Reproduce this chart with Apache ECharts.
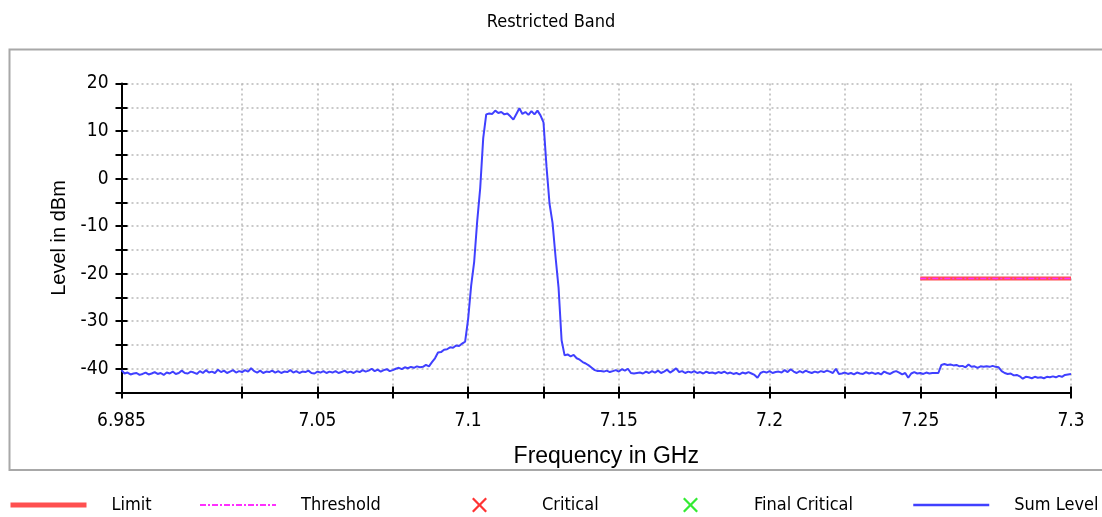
<!DOCTYPE html>
<html>
<head>
<meta charset="utf-8">
<script src="https://cdn.jsdelivr.net/npm/echarts@6/dist/echarts.min.js"></script>
<style>
  html, body { margin: 0; padding: 0; background: #ffffff; }
  #chart { width: 1102px; height: 517px; }
</style>
</head>
<body>
<div id="chart"></div>
<script>
// Sweep: 6.985 GHz to 7.300 GHz, one sample per MHz
const freqStart = 6.985;
const freqStep = 0.001;

// Sum Level trace in dBm, one value per sample
const sumLevel = [
  -40.3,
  -41.0, -40.8, -41.2, -41.0, -40.9, -41.3, -41.1, -40.8, -41.2, -41.0,
  -40.7, -41.1, -40.9, -41.3, -40.8, -41.0, -40.6, -41.1, -40.9, -40.4,
  -40.9, -41.0, -40.6, -40.8, -41.1, -40.5, -40.9, -40.3, -40.8, -40.6,
  -40.9, -40.2, -40.7, -40.4, -40.9, -40.6, -40.3, -40.8, -40.5, -40.7,
  -40.3, -40.6, -39.9, -40.5, -40.8, -40.4, -40.9, -40.6, -40.7, -40.4,
  -40.8, -40.5, -40.9, -40.6, -40.7, -40.3, -40.8, -40.5, -40.9, -40.6,
  -40.7, -40.4, -40.9, -41.0, -40.6, -40.8, -40.5, -40.9, -40.6, -40.8,
  -40.5, -40.9, -40.7, -40.4, -40.8, -40.6, -40.9, -40.5, -40.7, -40.3,
  -40.6, -40.4, -40.0, -40.5, -40.2, -40.6, -40.3, -40.1, -40.5, -40.3,
  -40.0, -39.8, -40.1, -39.7, -39.9, -39.6, -39.8, -39.5, -39.7, -39.6, -39.2, -39.5,
  -38.6, -37.8, -36.6, -36.5, -36.0, -35.9, -35.5, -35.6, -35.1, -35.2, -34.7, -34.3,
  -29.5, -22.5, -17.5, -9.0, -2.0, 8.5,
  13.5, 13.7, 13.6, 14.3, 13.8, 14.0, 13.5, 13.7, 13.1, 12.4,
  13.6, 14.8, 13.6, 14.0, 13.4, 14.2, 13.5, 14.3, 13.3,
  11.8, 2.5, -5.3, -9.3, -16.5, -23.0, -34.0, -37.2,
  -37.0, -37.4, -37.1, -37.8, -38.1, -38.6, -38.9, -39.3, -39.8, -40.3, -40.5,
  -40.5, -40.6, -40.4, -40.7, -40.5, -40.3, -40.6, -40.1, -40.4, -40.0,
  -40.9, -41.0, -40.9, -40.8, -41.0, -40.6, -40.9, -40.5, -40.8, -40.4,
  -40.9, -40.6, -40.2, -40.8, -40.4, -39.9, -40.7, -40.5, -40.9, -40.6,
  -40.8, -40.5, -40.9, -40.7, -41.0, -40.6, -40.9, -40.8, -41.0, -40.7,
  -40.9, -40.6, -41.0, -40.8, -41.1, -40.9, -41.2, -40.8, -41.0, -40.7,
  -41.0, -41.3, -41.9, -40.9, -40.6, -40.8, -40.5, -40.9, -40.7, -40.6,
  -40.8, -40.3, -40.7, -40.1, -40.6, -40.9, -40.5, -40.8, -40.4, -40.7,
  -40.9, -40.6, -40.8, -40.5, -40.7, -40.4, -40.6, -40.9, -40.0, -41.1,
  -41.0, -40.8, -41.1, -40.9, -41.2, -40.8, -41.0, -41.1, -40.7, -41.0,
  -40.8, -41.1, -40.9, -41.2, -40.6, -40.9, -41.1, -40.7,
  -40.5, -40.8, -41.2, -40.9, -41.9, -41.0, -40.7, -41.0, -40.9, -41.1, -40.8, -41.0, -40.9, -40.9,
  -40.9, -39.2, -39.0, -39.2, -39.1, -39.3, -39.2, -39.5, -39.4, -39.7,
  -39.1, -39.6, -39.5, -39.8, -39.5, -39.6, -39.5, -39.6, -39.4,
  -39.6, -39.7, -40.5, -40.9, -41.1, -41.0, -41.4, -41.3, -41.6, -42.1,
  -41.7, -41.8, -42.0, -41.7, -41.9, -41.8, -42.0, -41.7, -41.8, -41.6,
  -41.8, -41.5, -41.7, -41.3, -41.2, -41.1
];

// Limit and threshold lines (GHz, dBm)
const limitFreq = [7.25, 7.3];
const limitLevel = [-21, -21];
const thresholdLevel = [-21, -21];

// Axis ticks and labels
const xTickValues = [6.985, 7.025, 7.05, 7.075, 7.1, 7.125, 7.15, 7.175, 7.2, 7.225, 7.25, 7.275, 7.3];
const xLabelValues = [6.985, 7.05, 7.1, 7.15, 7.2, 7.25, 7.3];
const yLabelValues = [-40, -30, -20, -10, 0, 10, 20];

const seriesNames = ['Limit', 'Threshold', 'Critical', 'Final Critical', 'Sum Level'];

const NARROW = '"DejaVu Sans Condensed", "Liberation Sans", sans-serif';
const REGULAR = '"Liberation Sans", Arial, sans-serif';

const round3 = v => Math.round(v * 1000) / 1000;
const sumData = sumLevel.map((v, i) => [round3(freqStart + i * freqStep), v]);
const limitData = limitFreq.map((f, i) => [f, limitLevel[i]]);
const thresholdData = limitFreq.map((f, i) => [f, thresholdLevel[i]]);

// Filled "x" glyph used for the critical markers
const crossPath = 'path://M0,1.6L1.6,0L7.5,5.9L13.4,0L15,1.6L9.1,7.5L15,13.4L13.4,15L7.5,9.1L1.6,15L0,13.4L5.9,7.5Z';

const tickStyle = { color: '#000', width: 2 };
const gridLineStyle = { color: '#b8b8b8', type: [2, 3], width: 1.5 };

// One legend block per series so each entry sits in its own column
function legendAt(name, left, iconW, iconH, gap, lineWidth) {
  const lg = {
    data: [name],
    left: left,
    top: 496,
    padding: 0,
    orient: 'horizontal',
    selectedMode: false,
    itemWidth: iconW,
    itemHeight: iconH,
    textStyle: { fontFamily: NARROW, fontSize: 18, color: '#000', padding: [0, 0, 0, gap] }
  };
  if (lineWidth) {
    // line entries: show only the stroke, no marker on it
    lg.lineStyle = { width: lineWidth };
    lg.itemStyle = { opacity: 0, borderWidth: 0 };
  }
  return lg;
}

const option = {
  animation: false,
  backgroundColor: '#ffffff',
  title: {
    text: 'Restricted Band',
    left: 'center',
    top: 8,
    textStyle: { fontFamily: NARROW, fontSize: 18, fontWeight: 'normal', color: '#000' }
  },
  graphic: [{
    type: 'rect',
    shape: { x: 9.5, y: 49.5, width: 1100, height: 420.5 },
    style: { fill: 'none', stroke: '#a8a8a8', lineWidth: 2 },
    silent: true
  }],
  grid: { left: 121.5, right: 31, top: 83.5, bottom: 124.5, containLabel: false },
  xAxis: [{
    type: 'value',
    min: 6.985,
    max: 7.3,
    position: 'bottom',
    name: 'Frequency in GHz',
    nameLocation: 'middle',
    nameGap: 53,
    nameTextStyle: { fontFamily: REGULAR, fontSize: 23, color: '#000', padding: [0, 0, 0, 20] },
    axisLine: { show: true, onZero: false, lineStyle: { color: '#000', width: 2 } },
    axisTick: { show: true, inside: false, length: 6, customValues: xTickValues, lineStyle: tickStyle },
    axisLabel: {
      show: true, margin: 19, customValues: xLabelValues,
      fontFamily: NARROW, fontSize: 19, color: '#000',
      formatter: v => String(round3(v))
    },
    splitLine: { show: true, lineStyle: gridLineStyle }
  }, {
    type: 'value',
    min: 6.985,
    max: 7.3,
    position: 'bottom',
    axisLine: { show: false, onZero: false },
    axisTick: { show: true, inside: true, length: 6, customValues: xTickValues, lineStyle: tickStyle },
    axisLabel: { show: false },
    splitLine: { show: false }
  }],
  yAxis: [{
    type: 'value',
    min: -45,
    max: 20,
    interval: 5,
    position: 'left',
    name: 'Level in dBm',
    nameLocation: 'middle',
    nameGap: 40,
    nameTextStyle: { fontFamily: REGULAR, fontSize: 20, color: '#000' },
    axisLine: { show: true, onZero: false, lineStyle: { color: '#000', width: 2 } },
    axisTick: { show: true, inside: false, length: 6, lineStyle: tickStyle },
    axisLabel: {
      show: true, margin: 13, customValues: yLabelValues,
      fontFamily: NARROW, fontSize: 19, color: '#000'
    },
    splitLine: { show: true, lineStyle: gridLineStyle }
  }, {
    type: 'value',
    min: -45,
    max: 20,
    interval: 5,
    position: 'left',
    axisLine: { show: false, onZero: false },
    axisTick: { show: true, inside: true, length: 6, lineStyle: tickStyle },
    axisLabel: { show: false },
    splitLine: { show: false }
  }],
  legend: [
    legendAt(seriesNames[0], 8, 76, 14, 20, 5),
    legendAt(seriesNames[1], 199, 76, 14, 20, 2),
    legendAt(seriesNames[2], 472, 15, 15, 50, 0),
    legendAt(seriesNames[3], 683, 15, 15, 51, 0),
    legendAt(seriesNames[4], 912, 76, 14, 20, 2.5)
  ],
  series: [{
    name: seriesNames[0],
    type: 'line',
    data: limitData,
    symbol: 'none',
    lineStyle: { color: '#ff5050', width: 4 },
    itemStyle: { color: '#ff5050' },
    z: 3
  }, {
    name: seriesNames[1],
    type: 'line',
    data: thresholdData,
    symbol: 'none',
    lineStyle: { color: '#ff30ff', width: 1.5, type: [6, 2, 2, 2] },
    itemStyle: { color: '#ff30ff' },
    z: 4
  }, {
    name: seriesNames[2],
    type: 'scatter',
    data: [],
    symbol: crossPath,
    symbolSize: 15,
    itemStyle: { color: '#ff0000' }
  }, {
    name: seriesNames[3],
    type: 'scatter',
    data: [],
    symbol: crossPath,
    symbolSize: 15,
    itemStyle: { color: '#00e600' }
  }, {
    name: seriesNames[4],
    type: 'line',
    data: sumData,
    symbol: 'none',
    lineStyle: { color: '#4040ff', width: 2 },
    itemStyle: { color: '#4040ff' },
    z: 5
  }]
};

const chart = echarts.init(document.getElementById('chart'), null, { renderer: 'canvas' });
chart.setOption(option);
</script>
</body>
</html>
